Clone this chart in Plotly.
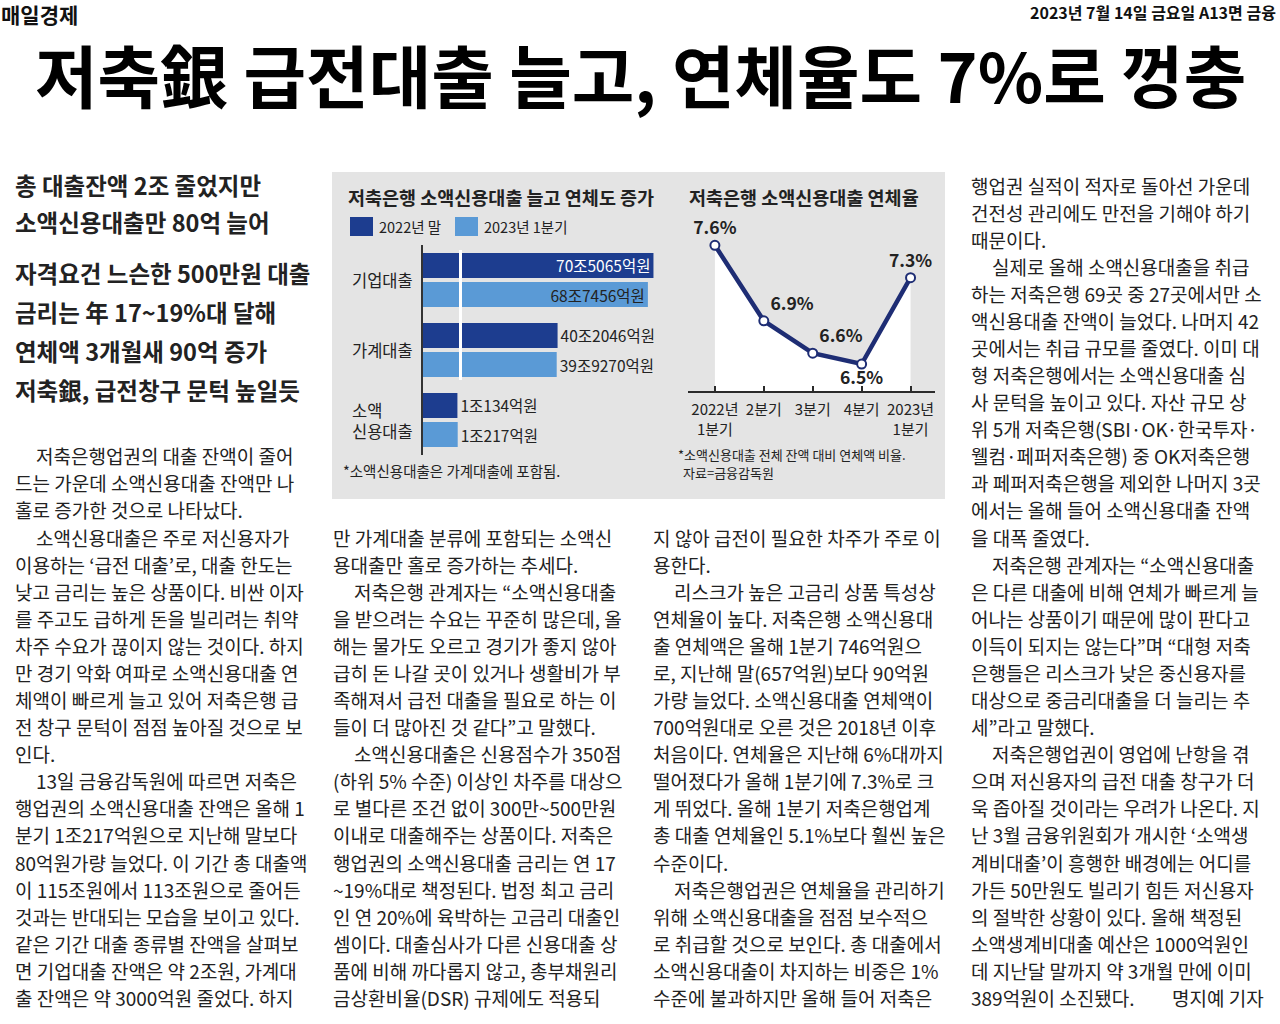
import plotly.graph_objects as go

# ---- data ----
bar_categories = ["기업대출", "가계대출", "소액<br>신용대출"]
loan_2022_end = [705065, 402046, 10134]   # 억원
loan_2023_q1 = [687456, 399270, 10217]    # 억원
legend_names = ["2022년 말", "2023년 1분기"]

rate_quarters = ["2022년<br>1분기", "2분기", "3분기", "4분기", "2023년<br>1분기"]
rate_values = [7.6, 6.9, 6.6, 6.5, 7.3]

headline = "저축銀 급전대출 늘고, 연체율도 7%로 껑충"
subheads_a = ["총 대출잔액 2조 줄었지만", "소액신용대출만 80억 늘어"]
subheads_b = ["자격요건 느슨한 500만원 대출", "금리는 年 17~19%대 달해",
              "연체액 3개월새 90억 증가", "저축銀, 급전창구 문턱 높일듯"]

# leading space = paragraph indent
col1 = [
    " 저축은행업권의 대출 잔액이 줄어",
    "드는 가운데 소액신용대출 잔액만 나",
    "홀로 증가한 것으로 나타났다.",
    " 소액신용대출은 주로 저신용자가",
    "이용하는 ‘급전 대출’로, 대출 한도는",
    "낮고 금리는 높은 상품이다. 비싼 이자",
    "를 주고도 급하게 돈을 빌리려는 취약",
    "차주 수요가 끊이지 않는 것이다. 하지",
    "만 경기 악화 여파로 소액신용대출 연",
    "체액이 빠르게 늘고 있어 저축은행 급",
    "전 창구 문턱이 점점 높아질 것으로 보",
    "인다.",
    " 13일 금융감독원에 따르면 저축은",
    "행업권의 소액신용대출 잔액은 올해 1",
    "분기 1조217억원으로 지난해 말보다",
    "80억원가량 늘었다. 이 기간 총 대출액",
    "이 115조원에서 113조원으로 줄어든",
    "것과는 반대되는 모습을 보이고 있다.",
    "같은 기간 대출 종류별 잔액을 살펴보",
    "면 기업대출 잔액은 약 2조원, 가계대",
    "출 잔액은 약 3000억원 줄었다. 하지",
]
col2 = [
    "만 가계대출 분류에 포함되는 소액신",
    "용대출만 홀로 증가하는 추세다.",
    " 저축은행 관계자는 “소액신용대출",
    "을 받으려는 수요는 꾸준히 많은데, 올",
    "해는 물가도 오르고 경기가 좋지 않아",
    "급히 돈 나갈 곳이 있거나 생활비가 부",
    "족해져서 급전 대출을 필요로 하는 이",
    "들이 더 많아진 것 같다”고 말했다.",
    " 소액신용대출은 신용점수가 350점",
    "(하위 5% 수준) 이상인 차주를 대상으",
    "로 별다른 조건 없이 300만~500만원",
    "이내로 대출해주는 상품이다. 저축은",
    "행업권의 소액신용대출 금리는 연 17",
    "~19%대로 책정된다. 법정 최고 금리",
    "인 연 20%에 육박하는 고금리 대출인",
    "셈이다. 대출심사가 다른 신용대출 상",
    "품에 비해 까다롭지 않고, 총부채원리",
    "금상환비율(DSR) 규제에도 적용되",
]
col3 = [
    "지 않아 급전이 필요한 차주가 주로 이",
    "용한다.",
    " 리스크가 높은 고금리 상품 특성상",
    "연체율이 높다. 저축은행 소액신용대",
    "출 연체액은 올해 1분기 746억원으",
    "로, 지난해 말(657억원)보다 90억원",
    "가량 늘었다. 소액신용대출 연체액이",
    "700억원대로 오른 것은 2018년 이후",
    "처음이다. 연체율은 지난해 6%대까지",
    "떨어졌다가 올해 1분기에 7.3%로 크",
    "게 뛰었다. 올해 1분기 저축은행업계",
    "총 대출 연체율인 5.1%보다 훨씬 높은",
    "수준이다.",
    " 저축은행업권은 연체율을 관리하기",
    "위해 소액신용대출을 점점 보수적으",
    "로 취급할 것으로 보인다. 총 대출에서",
    "소액신용대출이 차지하는 비중은 1%",
    "수준에 불과하지만 올해 들어 저축은",
]
col4 = [
    "행업권 실적이 적자로 돌아선 가운데",
    "건전성 관리에도 만전을 기해야 하기",
    "때문이다.",
    " 실제로 올해 소액신용대출을 취급",
    "하는 저축은행 69곳 중 27곳에서만 소",
    "액신용대출 잔액이 늘었다. 나머지 42",
    "곳에서는 취급 규모를 줄였다. 이미 대",
    "형 저축은행에서는 소액신용대출 심",
    "사 문턱을 높이고 있다. 자산 규모 상",
    "위 5개 저축은행(SBI·OK·한국투자·",
    "웰컴·페퍼저축은행) 중 OK저축은행",
    "과 페퍼저축은행을 제외한 나머지 3곳",
    "에서는 올해 들어 소액신용대출 잔액",
    "을 대폭 줄였다.",
    " 저축은행 관계자는 “소액신용대출",
    "은 다른 대출에 비해 연체가 빠르게 늘",
    "어나는 상품이기 때문에 많이 판다고",
    "이득이 되지는 않는다”며 “대형 저축",
    "은행들은 리스크가 낮은 중신용자를",
    "대상으로 중금리대출을 더 늘리는 추",
    "세”라고 말했다.",
    " 저축은행업권이 영업에 난항을 겪",
    "으며 저신용자의 급전 대출 창구가 더",
    "욱 좁아질 것이라는 우려가 나온다. 지",
    "난 3월 금융위원회가 개시한 ‘소액생",
    "계비대출’이 흥행한 배경에는 어디를",
    "가든 50만원도 빌리기 힘든 저신용자",
    "의 절박한 상황이 있다. 올해 책정된",
    "소액생계비대출 예산은 1000억원인",
    "데 지난달 말까지 약 3개월 만에 이미",
    "389억원이 소진됐다.",
]
byline = "명지예 기자"

# ---- styles ----
W, H = 1280, 1024
FONT = "Noto Sans CJK KR"
DARK = "#1d3d8f"
LIGHT = "#5a9ad6"
NAVY = "#1e2d74"
INK = "#222222"
BODY = 19


def px(x):
    return x / W


def py(y):
    return 1 - y / H


def won(v):
    return f"{v // 10000}조{v % 10000}억원"


fig = go.Figure()


def add_text(x, y, text, size, color=INK, xanchor="left", align="left"):
    fig.add_annotation(x=px(x), y=py(y), xref="paper", yref="paper", text=text,
                       showarrow=False, xanchor=xanchor, yanchor="middle", align=align,
                       font=dict(family=FONT, size=size, color=color), borderpad=0)


# bars: short stub segment (left of the break) and main segment
n = len(bar_categories)
stub_pos = ["none"] * (n - 1) + ["outside"]
main_pos = ["inside", "outside", "none"]
for vals, color, txtcolor in [(loan_2022_end, DARK, "white"), (loan_2023_q1, LIGHT, INK)]:
    labels = [won(v) for v in vals]
    fig.add_trace(go.Bar(
        y=bar_categories, x=vals, orientation="h", xaxis="x", yaxis="y",
        marker=dict(color=color, line_width=0), showlegend=False,
        text=["", "", labels[2]], textposition=stub_pos, cliponaxis=False,
        constraintext="none", outsidetextfont=dict(color=INK, size=15.5),
        hoverinfo="skip"))
    fig.add_trace(go.Bar(
        y=bar_categories, x=vals, orientation="h", xaxis="x2", yaxis="y2",
        marker=dict(color=color, line_width=0), showlegend=False,
        text=[labels[0], labels[1], ""], textposition=main_pos, cliponaxis=False,
        insidetextanchor="end", constraintext="none",
        insidetextfont=dict(color=txtcolor, size=15.5),
        outsidetextfont=dict(color=INK, size=15.5),
        hoverinfo="skip"))

# delinquency rate line
fig.add_trace(go.Scatter(
    x=list(range(len(rate_values))), y=rate_values, xaxis="x3", yaxis="y3",
    mode="lines+markers+text", fill="tozeroy", fillcolor="white",
    line=dict(color=NAVY, width=4.5),
    marker=dict(size=9, color="white", line=dict(color=NAVY, width=2)),
    text=[f"<b>{v}%</b>" for v in rate_values],
    textposition=["top center", "top right", "top right", "bottom center", "top center"],
    textfont=dict(family=FONT, size=17.5, color=INK),
    cliponaxis=False, showlegend=False, hoverinfo="skip"))

bar_y_dom = [py(455), py(245)]
fig.update_layout(
    width=W, height=H, margin=dict(l=0, r=0, t=0, b=0),
    paper_bgcolor="white", plot_bgcolor="rgba(0,0,0,0)",
    font=dict(family=FONT, color=INK),
    barmode="group", bargap=0.17, bargroupgap=0.14,
    xaxis=dict(domain=[px(423), px(459)], range=[0, 10600], visible=False, anchor="y"),
    yaxis=dict(domain=bar_y_dom, type="category", categoryorder="array",
               categoryarray=bar_categories, autorange="reversed",
               showticklabels=False, showgrid=False, zeroline=False,
               showline=True, linecolor="#333333", linewidth=1.5, anchor="x"),
    xaxis2=dict(domain=[px(462), px(668)], range=[100000, 751000], visible=False, anchor="y2"),
    yaxis2=dict(domain=bar_y_dom, type="category", categoryorder="array",
                categoryarray=bar_categories, autorange="reversed", visible=False, anchor="x2"),
    xaxis3=dict(domain=[px(688), px(935)], range=[-0.55, 4.5],
                tickvals=list(range(len(rate_quarters))), ticktext=rate_quarters,
                tickfont=dict(size=15, color=INK), showgrid=False, zeroline=False,
                showline=True, linecolor="#2b2b2b", linewidth=2, ticklabelstandoff=4,
                ticks="inside", ticklen=5, tickwidth=1.5, tickcolor="#2b2b2b", anchor="y3"),
    yaxis3=dict(domain=[py(391), py(200)], range=[6.25, 8.02], visible=False, anchor="x3"),
)

# graphic box, axis break, legend swatches
fig.add_shape(type="rect", xref="paper", yref="paper", x0=px(332), x1=px(945),
              y0=py(499), y1=py(172), fillcolor="#e4e4e4", line_width=0, layer="below")
fig.add_shape(type="rect", xref="paper", yref="paper", x0=px(459), x1=px(462),
              y0=py(380), y1=py(250), fillcolor="white", line_width=0, layer="below")
for x0, color in [(350, DARK), (455, LIGHT)]:
    fig.add_shape(type="rect", xref="paper", yref="paper", x0=px(x0), x1=px(x0 + 23),
                  y0=py(236), y1=py(217), fillcolor=color, line_width=0)
add_text(378, 226, legend_names[0], 14.5)
add_text(483, 226, legend_names[1], 14.5)

add_text(347, 197, "<b>저축은행 소액신용대출 늘고 연체도 증가</b>", 18.5)
add_text(688, 197, "<b>저축은행 소액신용대출 연체율</b>", 18.5)
for cat in bar_categories:
    fig.add_annotation(x=px(350), y=cat, xref="paper", yref="y", text=cat, showarrow=False,
                       xanchor="left", align="left", font=dict(size=16.5, color=INK))
add_text(342, 470, "*소액신용대출은 가계대출에 포함됨.", 14.5)
add_text(677, 454, "*소액신용대출 전체 잔액 대비 연체액 비율.", 13)
add_text(682, 472, "자료=금융감독원", 13)

# page header
add_text(0, 14, "<b>매일경제</b>", 21, color="#111")
add_text(1277, 12, "<b>2023년 7월 14일 금요일 A13면 금융</b>", 16, color="#111", xanchor="right")
add_text(640, 73, f"<b>{headline}</b>", 68, color="#000", xanchor="center")

for i, s in enumerate(subheads_a):
    add_text(14, 185 + 37 * i, f"<b>{s}</b>", 23.5)
for i, s in enumerate(subheads_b):
    add_text(14, 273 + 39 * i, f"<b>{s}</b>", 23.5)

# body columns
PITCH = 27.08
for lines, x, row0 in [(col1, 14, 10), (col2, 332, 13), (col3, 652, 13), (col4, 970, 0)]:
    for i, line in enumerate(lines):
        indent = line.startswith(" ")
        add_text(x + (21 if indent else 0), 185 + PITCH * (row0 + i), line.strip(), BODY)
add_text(1265, 185 + PITCH * (len(col4) - 1), byline, BODY, xanchor="right")

fig.write_html("out.html", config={"displayModeBar": False},
               post_script="document.body.style.margin='0px';")
